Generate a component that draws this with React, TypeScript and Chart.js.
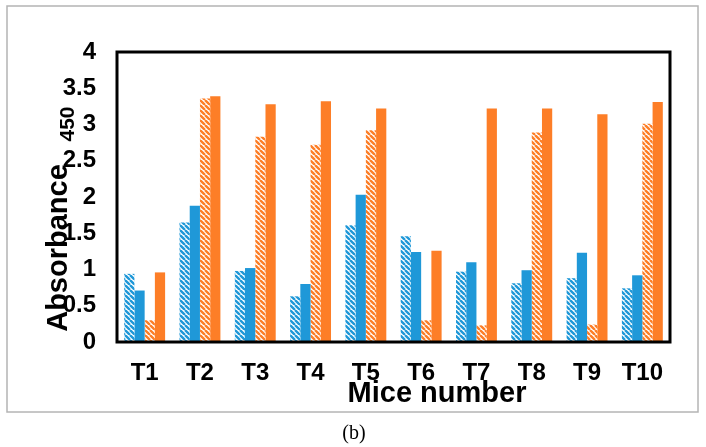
import React, { useEffect, useRef } from "react";
import { Chart, registerables } from "chart.js";

Chart.register(...registerables);

const categories = ["T1", "T2", "T3", "T4", "T5", "T6", "T7", "T8", "T9", "T10"];
const hatchedBlue = [0.94, 1.65, 0.98, 0.63, 1.61, 1.46, 0.97, 0.81, 0.88, 0.74];
const solidBlue = [0.71, 1.88, 1.02, 0.8, 2.03, 1.24, 1.1, 0.99, 1.23, 0.92];
const hatchedOrange = [0.3, 3.36, 2.83, 2.72, 2.92, 0.3, 0.23, 2.89, 0.24, 3.01];
const solidOrange = [0.96, 3.39, 3.28, 3.32, 3.22, 1.26, 3.22, 3.22, 3.14, 3.31];
const yMin = 0;
const yMax = 4;
const yStep = 0.5;
const xTitle = "Mice number";
const yTitle = "Absorbance";
const ySub = "450";
const caption = "(b)";

const BLUE = "#1f98d8";
const ORANGE = "#fd7e27";
const SANS = '"Liberation Sans", Arial, sans-serif';

function makeHatch(color: string): CanvasPattern | string {
  const s = 5;
  const c = document.createElement("canvas");
  c.width = s;
  c.height = s;
  const g = c.getContext("2d");
  if (!g) return color;
  g.fillStyle = "#ffffff";
  g.fillRect(0, 0, s, s);
  g.strokeStyle = color;
  g.lineWidth = 2.4;
  g.beginPath();
  for (const o of [-s, 0, s]) {
    g.moveTo(o, 0);
    g.lineTo(o + s, s);
  }
  g.stroke();
  const p = g.createPattern(c, "repeat");
  return p || color;
}

const decorPlugin = {
  id: "decor",
  afterDatasetsDraw(chart: any) {
    const { ctx, chartArea } = chart;
    ctx.save();
    ctx.strokeStyle = "#000";
    ctx.lineWidth = 3;
    ctx.strokeRect(chartArea.left, chartArea.top, chartArea.right - chartArea.left, chartArea.bottom - chartArea.top);
    ctx.restore();
  },
  afterDraw(chart: any) {
    const { ctx } = chart;
    ctx.save();
    ctx.strokeStyle = "#b4b4b4";
    ctx.lineWidth = 1.5;
    ctx.strokeRect(7, 6, 691, 406);
    ctx.fillStyle = "#000";
    ctx.font = `bold 29px ${SANS}`;
    ctx.textAlign = "center";
    ctx.textBaseline = "alphabetic";
    ctx.fillText(xTitle, 437, 402);
    ctx.font = '20px "Liberation Serif", "Times New Roman", serif';
    ctx.fillText(caption, 354, 439);
    ctx.save();
    ctx.translate(67, 248);
    ctx.rotate(-Math.PI / 2);
    ctx.font = `bold 29px ${SANS}`;
    ctx.textAlign = "center";
    ctx.fillText(yTitle, 0, 0);
    ctx.restore();
    ctx.save();
    ctx.translate(74, 124);
    ctx.rotate(-Math.PI / 2);
    ctx.font = `bold 21px ${SANS}`;
    ctx.textAlign = "center";
    ctx.fillText(ySub, 0, 0);
    ctx.restore();
    ctx.restore();
  },
};

export default function App() {
  const ref = useRef<HTMLCanvasElement | null>(null);
  useEffect(() => {
    if (!ref.current) return;
    const chart = new Chart(ref.current, {
      type: "bar",
      data: {
        labels: categories,
        datasets: [
          { label: "Series 1", data: hatchedBlue, backgroundColor: makeHatch(BLUE) as any, borderWidth: 0 },
          { label: "Series 2", data: solidBlue, backgroundColor: BLUE, borderWidth: 0 },
          { label: "Series 3", data: hatchedOrange, backgroundColor: makeHatch(ORANGE) as any, borderWidth: 0 },
          { label: "Series 4", data: solidOrange, backgroundColor: ORANGE, borderWidth: 0 },
        ],
      },
      options: {
        responsive: false,
        animation: false,
        layout: { padding: { top: 52, right: 36, left: 0, bottom: 0 } },
        plugins: { legend: { display: false }, tooltip: { enabled: false }, title: { display: false } },
        datasets: { bar: { categoryPercentage: 0.74, barPercentage: 1 } },
        scales: {
          x: {
            grid: { display: false, drawTicks: false },
            border: { display: false },
            ticks: { color: "#000", font: { family: SANS, size: 24, weight: "bold" }, padding: 17, maxRotation: 0 },
            afterFit: (s: any) => {
              s.height = 105;
            },
          },
          y: {
            min: yMin,
            max: yMax,
            grid: { display: false, drawTicks: false },
            border: { display: false },
            ticks: {
              stepSize: yStep,
              color: "#000",
              font: { family: SANS, size: 24, weight: "bold" },
              padding: 21,
              callback: (v: any) => String(v),
            },
            afterFit: (s: any) => {
              s.width = 117;
            },
          },
        },
      },
      plugins: [decorPlugin],
    });
    return () => chart.destroy();
  }, []);
  return (
    <div style={{ position: "absolute", left: 0, top: 0, width: 706, height: 447, background: "#fff" }}>
      <canvas ref={ref} width={706} height={447} style={{ display: "block", width: 706, height: 447 }} />
    </div>
  );
}
